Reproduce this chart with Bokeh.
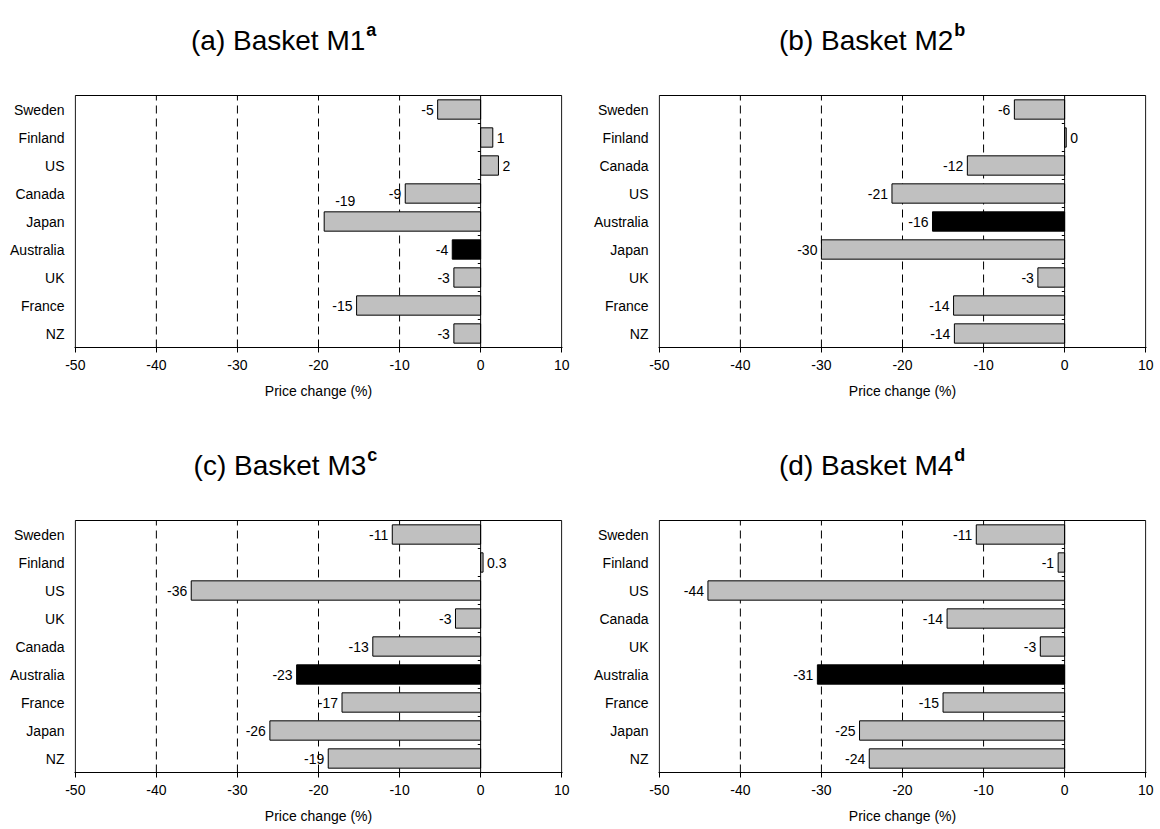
from bokeh.plotting import figure
from bokeh.layouts import column, row
from bokeh.models import FixedTicker, Range1d, ColumnDataSource
from bokeh.core.properties import value
from bokeh.embed import file_html
from bokeh.resources import INLINE

# ---------------- data ----------------
m1_countries = ["Sweden", "Finland", "US", "Canada", "Japan", "Australia", "UK", "France", "NZ"]
m1_values = [-5.3, 1.5, 2.2, -9.3, -19.3, -3.5, -3.3, -15.3, -3.3]
m1_labels = ["-5", "1", "2", "-9", "-19", "-4", "-3", "-15", "-3"]

m2_countries = ["Sweden", "Finland", "Canada", "US", "Australia", "Japan", "UK", "France", "NZ"]
m2_values = [-6.2, 0.2, -12.0, -21.3, -16.3, -30.0, -3.3, -13.7, -13.6]
m2_labels = ["-6", "0", "-12", "-21", "-16", "-30", "-3", "-14", "-14"]

m3_countries = ["Sweden", "Finland", "US", "UK", "Canada", "Australia", "France", "Japan", "NZ"]
m3_values = [-10.9, 0.3, -35.7, -3.1, -13.3, -22.7, -17.1, -26.0, -18.8]
m3_labels = ["-11", "0.3", "-36", "-3", "-13", "-23", "-17", "-26", "-19"]

m4_countries = ["Sweden", "Finland", "US", "Canada", "UK", "Australia", "France", "Japan", "NZ"]
m4_values = [-10.9, -0.8, -44.0, -14.5, -3.0, -30.5, -15.0, -25.3, -24.1]
m4_labels = ["-11", "-1", "-44", "-14", "-3", "-31", "-15", "-25", "-24"]

titles = ["(a) Basket M1", "(b) Basket M2", "(c) Basket M3", "(d) Basket M4"]
title_notes = ["a", "b", "c", "d"]
x_ticks = [-50, -40, -30, -20, -10, 0, 10]
x_tick_labels = ["-50", "-40", "-30", "-20", "-10", "0", "10"]
grid_ticks = [-40, -30, -20, -10]
x_title = "Price change (%)"
highlight = "Australia"
raised_label = {0: "Japan"}   # label drawn above its bar in panel (a)

FONT = "Liberation Sans"
SMALL = "14px"
ROW_PX = 28      # pixel height of one category row
TITLE_PX = 87    # room kept above the bars for the panel title


def panel(idx, countries, vals, labels, left_b, frame_w, right_b, top_b, bottom_b, title_x):
    n = len(countries)
    pos = [n - 1 - i for i in range(n)]
    lo, hi = x_ticks[0], x_ticks[-1]
    pad = 0.1
    p = figure(frame_width=frame_w, frame_height=ROW_PX * n + TITLE_PX,
               min_border_left=left_b, min_border_right=right_b,
               min_border_top=top_b, min_border_bottom=bottom_b,
               x_range=Range1d(lo - pad, hi + pad),
               y_range=Range1d(-0.5, n - 0.5 + TITLE_PX / ROW_PX),
               output_backend="svg", toolbar_location=None,
               background_fill_color="white", border_fill_color="white")
    p.outline_line_color = None
    p.xgrid.grid_line_color = None
    p.ygrid.grid_line_color = None

    # x axis
    xa = p.xaxis[0]
    xa.ticker = FixedTicker(ticks=x_ticks)
    xa.major_label_overrides = {t: s for t, s in zip(x_ticks, x_tick_labels)}
    xa.axis_label = x_title
    xa.axis_label_text_font = FONT
    xa.axis_label_text_font_size = SMALL
    xa.axis_label_text_font_style = "normal"
    xa.axis_label_text_color = "black"
    xa.axis_label_standoff = 10
    xa.major_label_text_font = FONT
    xa.major_label_text_font_size = SMALL
    xa.major_label_text_color = "black"
    xa.major_label_standoff = 7
    xa.major_tick_out = 5
    xa.major_tick_in = 0
    xa.minor_tick_line_color = None
    xa.minor_tick_out = 0
    xa.axis_line_color = "black"
    xa.major_tick_line_color = "black"

    # y axis with country names
    ya = p.yaxis[0]
    ya.ticker = FixedTicker(ticks=pos)
    ya.major_label_overrides = {pp: c for pp, c in zip(pos, countries)}
    ya.major_label_text_font = FONT
    ya.major_label_text_font_size = SMALL
    ya.major_label_text_color = "black"
    ya.major_label_standoff = 10
    ya.major_tick_out = 0
    ya.major_tick_in = 0
    ya.minor_tick_out = 0
    ya.minor_tick_in = 0
    ya.major_tick_line_color = None
    ya.minor_tick_line_color = None
    ya.axis_line_color = None

    # dashed vertical grid lines
    p.segment(x0=grid_ticks, y0=[-0.5] * len(grid_ticks), x1=grid_ticks,
              y1=[n - 0.5] * len(grid_ticks), line_color="black", line_width=1,
              line_dash="8 5")

    # plot box
    p.quad(left=[lo], right=[hi], bottom=[-0.5], top=[n - 0.5],
           fill_color=None, line_color="black", line_width=1)

    # bars
    colors = ["black" if c == highlight else "#c0c0c0" for c in countries]
    src = ColumnDataSource(dict(y=pos, v=vals, c=colors))
    p.hbar(y="y", left=0, right="v", height=0.69, source=src,
           fill_color="c", line_color="black", line_width=1)

    # zero line with little ticks at row boundaries
    p.segment(x0=[0], y0=[-0.5], x1=[0], y1=[n - 0.5], line_color="black", line_width=1)
    bounds = [k + 0.5 for k in range(-1, n)]
    p.segment(x0=[0] * len(bounds), y0=bounds, x1=[-0.35] * len(bounds), y1=bounds,
              line_color="black", line_width=1)

    # value labels
    raised = raised_label.get(idx)
    for c, pp, v, t in zip(countries, pos, vals, labels):
        if c == raised:
            align, xo, yo = "left", 11, -21
        elif v >= 0:
            align, xo, yo = "left", 4, 0
        else:
            align, xo, yo = "right", -4, 0
        p.text(x=[v], y=[pp], text=[t], text_align=align, text_baseline="middle",
               x_offset=xo, y_offset=yo, text_font=value(FONT),
               text_font_size=SMALL, text_color="black")

    # panel title with bold superscript note
    p.text(x=[lo], y=[n - 0.5], text=[titles[idx]], text_align="right",
           text_baseline="alphabetic", x_offset=title_x, y_offset=-55,
           text_font=value(FONT), text_font_size="28px", text_color="black")
    p.text(x=[lo], y=[n - 0.5], text=[title_notes[idx]], text_align="left",
           text_baseline="alphabetic", x_offset=title_x + 1, y_offset=-66,
           text_font=value(FONT), text_font_size="18px", text_font_style="bold",
           text_color="black")
    return p


pa = panel(0, m1_countries, m1_values, m1_labels, 74, 488, 18, 8, 78, 290)
pb = panel(1, m2_countries, m2_values, m2_labels, 78, 488, 14, 8, 78, 294)
pc = panel(2, m3_countries, m3_values, m3_labels, 74, 488, 18, 8, 55, 291)
pd = panel(3, m4_countries, m4_values, m4_labels, 78, 488, 14, 8, 55, 294)

layout = column(row(pa, pb), row(pc, pd))
open("out.html", "w").write(file_html(layout, INLINE))
